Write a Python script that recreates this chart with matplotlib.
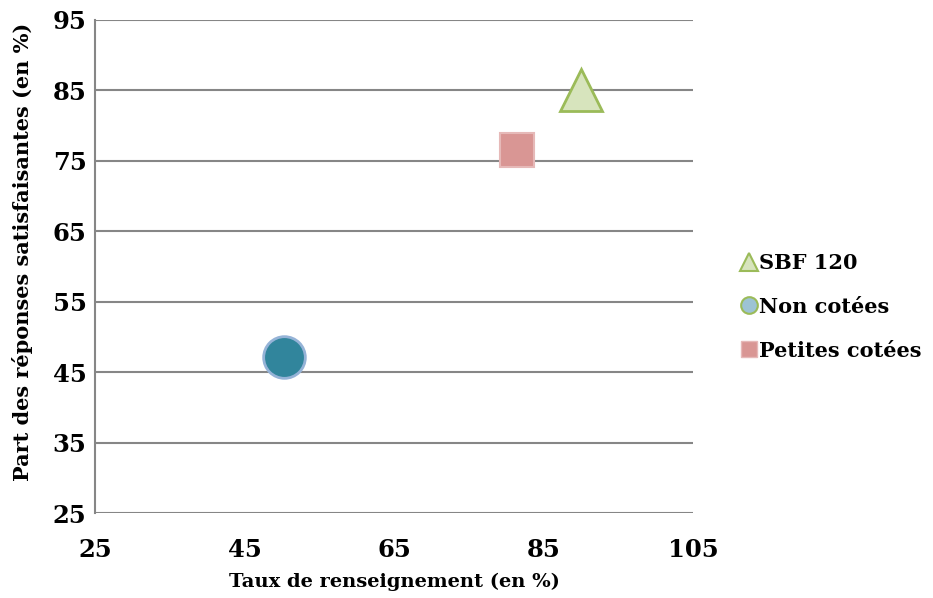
import matplotlib
matplotlib.use("Agg")
import matplotlib.pyplot as plt
from matplotlib.lines import Line2D

series = ["SBF 120", "Non cotées", "Petites cotées"]
x_vals = [90.0, 50.3, 81.5]
y_vals = [85.0, 47.2, 76.6]
x_ticks = [25, 45, 65, 85, 105]
y_ticks = [25, 35, 45, 55, 65, 75, 85, 95]

styles = {
    "SBF 120": dict(marker="^", ms=30, mfc="#D7E4BD", mec="#9BBB59", mew=2),
    "Non cotées": dict(marker="o", ms=30, mfc="#31859C", mec="#95B3D7", mew=2),
    "Petites cotées": dict(marker="s", ms=24, mfc="#D99694", mec="#E6B9B8", mew=1.5),
}
legend_styles = {
    "SBF 120": dict(marker="^", ms=13, mfc="#D7E4BD", mec="#9BBB59", mew=1.5),
    "Non cotées": dict(marker="o", ms=12, mfc="#9DC3D4", mec="#9BBB59", mew=1.5),
    "Petites cotées": dict(marker="s", ms=12, mfc="#D99694", mec="#E6B9B8", mew=1),
}

font = "DejaVu Serif"
plt.rcParams["font.family"] = [font]
plt.rcParams["font.weight"] = "bold"

fig = plt.figure(figsize=(9.33, 5.98), dpi=100)
ax = fig.add_axes([0.1018, 0.1421, 0.641, 0.8245])

for name, x, y in zip(series, x_vals, y_vals):
    ax.plot([x], [y], linestyle="none", zorder=3, clip_on=False, **styles[name])

ax.set_xlim(25, 105)
ax.set_ylim(25, 95)
ax.set_xticks(x_ticks)
ax.set_yticks(y_ticks)
ax.set_xticklabels([str(t) for t in x_ticks], fontsize=17.5, fontweight="bold")
ax.set_yticklabels([str(t) for t in y_ticks], fontsize=17.5, fontweight="bold")
ax.tick_params(length=0, pad=6)
ax.tick_params(axis="x", pad=18)
ax.yaxis.grid(True, color="#868686", linewidth=1.5)
ax.set_axisbelow(True)
for s in ["top", "right", "bottom"]:
    ax.spines[s].set_visible(False)
ax.spines["left"].set_color("#868686")
ax.spines["left"].set_linewidth(1.5)

ax.set_xlabel("Taux de renseignement (en %)", fontsize=14, fontweight="bold", labelpad=8)
ax.set_ylabel("Part des réponses satisfaisantes (en %)", fontsize=15, fontweight="bold")
ax.yaxis.set_label_coords(-0.103, 0.53)

handles = [Line2D([], [], linestyle="none", **legend_styles[n]) for n in series]
leg = fig.legend(handles, series, loc="center left", bbox_to_anchor=(0.771, 0.487),
                 frameon=False, handletextpad=0.0, labelspacing=1.15,
                 prop=dict(size=15, weight="bold"), handlelength=1.0)

fig.savefig("out.png", dpi=100)
